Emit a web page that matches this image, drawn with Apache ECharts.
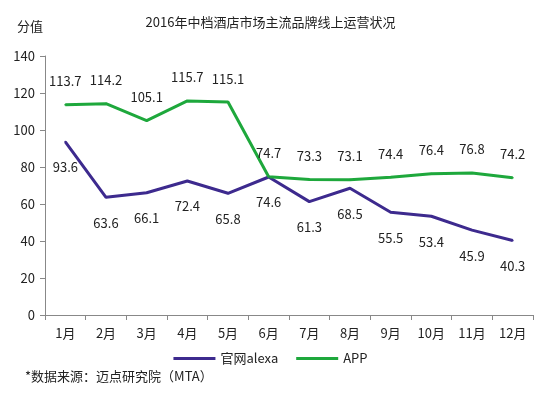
<!DOCTYPE html>
<html><head><meta charset="utf-8">
<script src="https://cdn.jsdelivr.net/npm/echarts@6/dist/echarts.min.js"></script>
<style>html,body{margin:0;padding:0;background:#fff}#c{width:541px;height:396px}</style>
</head><body><div id="c"></div>
<script>
var categories = ['1月','2月','3月','4月','5月','6月','7月','8月','9月','10月','11月','12月'];
var alexaValues = [93.6, 63.6, 66.1, 72.4, 65.8, 74.6, 61.3, 68.5, 55.5, 53.4, 45.9, 40.3];
var appValues = [113.7, 114.2, 105.1, 115.7, 115.1, 74.7, 73.3, 73.1, 74.4, 76.4, 76.8, 74.2];
var font = '"Noto Sans CJK SC", "Noto Sans", sans-serif';
var chart = echarts.init(document.getElementById('c'));
chart.setOption({
  animation: false,
  textStyle: {fontFamily: font},
  title: {text: '2016年中档酒店市场主流品牌线上运营状况', left: 'center', top: 11,
    textStyle: {fontSize: 13, fontWeight: 'normal', color: '#222', fontFamily: font}},
  legend: {bottom: 26, left: 'center', itemWidth: 42, itemHeight: 3, itemGap: 18,
    icon: 'rect', textStyle: {fontSize: 13, color: '#222', fontFamily: font},
    data: ['官网alexa', 'APP']},
  graphic: [{type: 'text', left: 25, top: 370, style: {text: '*数据来源：迈点研究院（MTA）', fontSize: 13, fill: '#222', fontFamily: font}}],
  grid: {left: 45, right: 8, top: 56, bottom: 81},
  xAxis: {type: 'category', data: categories, boundaryGap: true,
    axisLine: {lineStyle: {color: '#888'}},
    axisTick: {show: true, length: 5, lineStyle: {color: '#888'}},
    axisLabel: {fontSize: 13, color: '#222', margin: 12}},
  yAxis: {type: 'value', min: 0, max: 140, interval: 20, name: '分值',
    nameTextStyle: {fontSize: 13, color: '#222', padding: [0, 30, 8, 0]},
    axisLine: {show: true, lineStyle: {color: '#888'}},
    axisTick: {show: true, length: 5, lineStyle: {color: '#888'}},
    axisLabel: {fontSize: 13, color: '#222', margin: 10},
    splitLine: {show: false}},
  series: [
    {name: '官网alexa', type: 'line', data: alexaValues, symbol: 'circle', symbolSize: 2, showSymbol: true,
      lineStyle: {width: 3, color: '#3D2A8E'}, itemStyle: {color: '#3D2A8E'},
      label: {show: true, position: 'bottom', distance: 18, fontSize: 13, color: '#222'}},
    {name: 'APP', type: 'line', data: appValues, symbol: 'circle', symbolSize: 2, showSymbol: true,
      lineStyle: {width: 3, color: '#1EA83C'}, itemStyle: {color: '#1EA83C'},
      label: {show: true, position: 'top', distance: 16, fontSize: 13, color: '#222'}}
  ]
});
</script></body></html>
